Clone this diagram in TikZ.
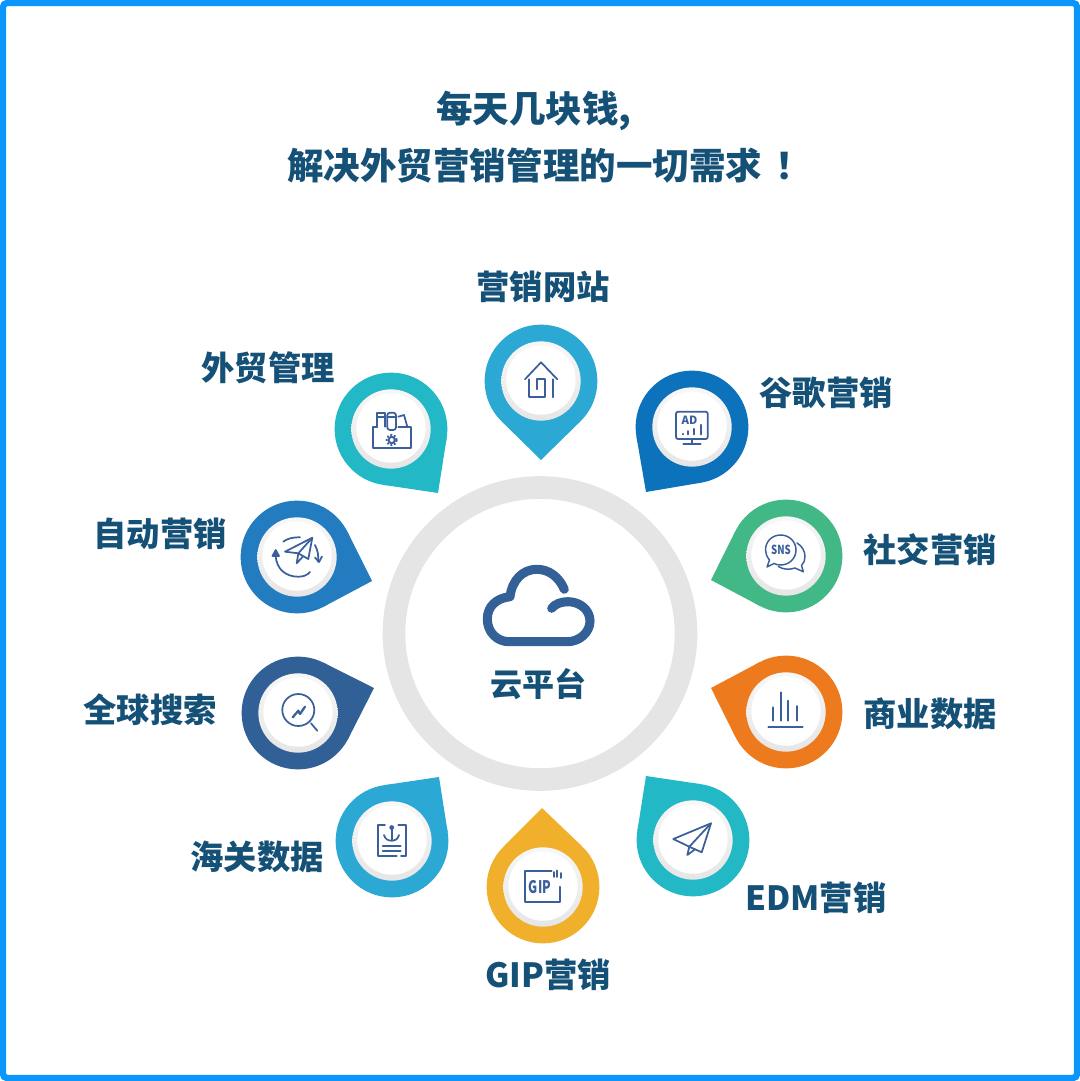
\documentclass[tikz,border=0pt]{standalone}
\usepackage{fontspec}
\usepackage{tikz}
\usetikzlibrary{calc}
\newfontfamily\cjk{Noto Sans CJK SC}
\definecolor{framec}{HTML}{0A96FB}
\definecolor{inkc}{HTML}{155177}
\definecolor{iconc}{HTML}{3A5F9A}
\definecolor{cloudc}{HTML}{336096}
\definecolor{skyc}{HTML}{2CA8D5}
\definecolor{tealc}{HTML}{22B8C6}
\definecolor{bluec}{HTML}{0D72BC}
\definecolor{greenc}{HTML}{41B886}
\definecolor{orangec}{HTML}{EE7A1E}
\definecolor{goldc}{HTML}{F0B02B}
\definecolor{navyc}{HTML}{316096}
\definecolor{midc}{HTML}{247CC0}
\newcommand{\pinmark}[4]{%
  \node [pinbody,fill=#4] (#1) at (#2) {};
  \coordinate (#1tip) at (#3);
  \fill [#4] (#1tip) -- (tangent cs:node=#1,point={(#1tip)},solution=1)
    -- (tangent cs:node=#1,point={(#1tip)},solution=2) -- cycle;
  \node [pinring] (#1ring) at (#2) {};
  \node [pinface] (#1face) at (#2) {};
}
\begin{document}
\begin{tikzpicture}[x=0.75pt,y=-0.75pt,
  pinbody/.style={circle,inner sep=0pt,outer sep=0pt,minimum size=84.6pt},
  pinring/.style={circle,inner sep=0pt,outer sep=0pt,minimum size=59.5pt,top color=black!3,bottom color=black!10},
  pinface/.style={circle,inner sep=0pt,outer sep=0pt,minimum size=52pt,fill=white,yshift=0.7pt},
  head/.style={inner sep=0pt,anchor=west,text=inkc,font=\cjk\bfseries\fontsize{27.4}{32}\selectfont},
  label/.style={inner sep=0pt,text=inkc,font=\cjk\bfseries\fontsize{25}{30}\selectfont},
  icon/.style={draw=iconc,line width=1.3pt,line join=round,line cap=round},
  icontext/.style={inner sep=0pt,text=iconc,font=\cjk\bfseries\fontsize{8.5}{9}\selectfont}]
\useasboundingbox (0,0) rectangle (1080,1081);
\draw [framec,line width=4.8pt,rounded corners=3pt] (3,3) rectangle (1077,1078);
\node [head] (title1) at (436,110.5) {每天几块钱,};
\node [head] (title2) at (287,165.5) {解决外贸营销管理的一切需求\hspace{10pt}！};
% centre ring
\node [circle,draw=black!10,line width=17pt,inner sep=0pt,minimum size=219pt] (ring) at (540,633.5) {};
\draw [cloudc,line width=6.8pt,line cap=round,line join=round]
  (564.3,589.3) .. controls (559,577) and (549,569.3) .. (536.7,569.3)
  .. controls (523,569.3) and (512,580) .. (510,596.7)
  .. controls (497,598) and (487.3,606) .. (487.3,619)
  .. controls (487.3,632) and (497,641.7) .. (509,641.7) -- (567,641.7)
  .. controls (580,641.7) and (590,632) .. (590,621)
  .. controls (590,610) and (580,601.7) .. (568,601.7)
  .. controls (561,601.7) and (555,604) .. (551.7,608.3);
\node [inner sep=0pt,text=inkc,font=\cjk\bfseries\fontsize{24}{28}\selectfont] (cloud) at (538,684) {云平台};
% pins
\pinmark{site}{541,381}{541,460}{skyc}
\pinmark{trade}{391,429}{438,493}{tealc}
\pinmark{google}{692,427}{646,492}{bluec}
\pinmark{social}{786,556}{711,580}{greenc}
\pinmark{biz}{786,712}{711,688}{orangec}
\pinmark{edm}{693,840}{646,776}{tealc}
\pinmark{gip}{543,887}{542,808}{goldc}
\pinmark{customs}{392,841}{439,777}{skyc}
\pinmark{search}{298,713}{374,688}{navyc}
\pinmark{auto}{297,557}{372,581}{midc}
% labels
\node [label] (sitetext) at (543,287) {营销网站};
\node [label] (tradetext) at (268,368) {外贸管理};
\node [label] (googletext) at (826,393) {谷歌营销};
\node [label] (socialtext) at (930,550) {社交营销};
\node [label] (biztext) at (930,714) {商业数据};
\node [label] (edmtext) at (816,898) {EDM营销};
\node [label] (giptext) at (548,975) {GIP营销};
\node [label] (customstext) at (257,857) {海关数据};
\node [label] (searchtext) at (150,710) {全球搜索};
\node [label] (autotext) at (160,534) {自动营销};
% house
\draw [icon] (525,379.3) -- (541,362.3) -- (557.3,379.3);
\draw [icon] (529,379.3) -- (529,397.3) -- (545,397.3) -- (545,379.3) -- (536.7,379.3) -- (536.7,389.3);
\draw [icon] (553.3,379.3) -- (553.3,397.3);
% toolbox
\draw [icon] (377.3,426.7) -- (372.7,426.7) -- (372.7,448) -- (410.7,448) -- (410.7,426.7) -- (398.3,426.7);
\draw [icon] (376.7,426.7) -- (376.7,413.3) -- (385,413.3) -- (385,426.7) (376.7,417) -- (385,417);
\draw [icon,rounded corners=2pt] (387.3,412.7) -- (387.3,430) -- (396,430) -- (396,412.7) -- cycle;
\draw [icon] (387.3,417) -- (396,417);
\draw [icon] (398.3,416.7) -- (404,415) -- (407.3,426.7);
\draw [iconc,line width=1.5pt] (391.7,440) circle (3.2);
\draw [iconc,line width=1.3pt,dash pattern=on 1.4pt off 1.4pt] (391.7,440) circle (5.2);
% monitor
\draw [icon,rounded corners=1.5pt] (676,411.7) rectangle (707.7,439);
\draw [icon] (691.7,439) -- (691.7,444.3);
\draw [icon] (683.3,444.3) -- (700.7,444.3);
\node [icontext] (adtext) at (689.5,420) {AD};
\draw [icon,line width=1.7pt] (682.7,434) -- (682.7,434.3);
\draw [icon,line width=1.7pt] (688.3,431.3) -- (688.3,434.3);
\draw [icon,line width=1.7pt] (694.3,429) -- (694.3,434.3);
\draw [icon,line width=1.7pt] (700.7,425) -- (700.7,434.3);
% chat bubbles
\draw [icon,line width=1.1pt] (767,567) -- (769.5,560) .. controls (767,557) and (765.5,553.5) .. (765.5,550)
  .. controls (765.5,541.5) and (772,535) .. (780.7,535) .. controls (789,535) and (796,541.5) .. (796,550)
  .. controls (796,558.5) and (789,565) .. (780.7,565) .. controls (778,565) and (776,564.5) .. (774,563.5) -- cycle;
\draw [icon,line width=1.1pt] (797,543) .. controls (802,546) and (805,551) .. (805,556.7)
  .. controls (805,560) and (804,563) .. (801.5,565.5) -- (803.3,571.7) -- (795,568)
  .. controls (789,570) and (783,569.5) .. (778.5,566.5);
\node [icontext] (snstext) at (781,550) {\scalebox{0.85}[1.1]{SNS}};
% bars
\draw [icon] (768.3,727.3) -- (802.7,727.3);
\draw [icon] (772.7,707.3) -- (772.7,720.7);
\draw [icon] (780.7,692.3) -- (780.7,720.7);
\draw [icon] (788.3,700.7) -- (788.3,720.7);
\draw [icon] (796.7,706) -- (796.7,720.7);
% paper plane
\draw [icon] (673.3,839) -- (711,823.3) -- (701.7,852.3) -- (689.3,846.7) -- cycle;
\draw [icon] (711,823.3) -- (689.3,846.7) -- (687.3,855) -- (695,849.3);
% gip card
\draw [icon] (551.7,871) -- (525,871) -- (525,901.7) -- (560,901.7) -- (560,886.7);
\node [icontext,font=\cjk\bfseries\fontsize{13}{14}\selectfont] (gipcard) at (540,886.7) {\scalebox{0.72}[1]{GIP}};
\draw [icon] (553.7,872) -- (553.7,877);
\draw [icon] (557,870.5) -- (557,877);
\draw [icon] (560.7,873) -- (560.7,878);
% anchor sheet
\draw [icon] (385,825) -- (378.3,825) -- (378.3,856) -- (396.7,856);
\draw [icon] (401,856) -- (406,856) -- (406,825) -- (398.3,825);
\fill [iconc] (391.7,827.5) circle (2.4);
\draw [icon] (391.7,827) -- (391.7,840.5);
\draw [icon] (384,835) .. controls (385,839) and (388,840.7) .. (391.7,840.7) .. controls (395,840.7) and (398,839) .. (399,835);
\draw [icon] (382.7,846) -- (400.7,846);
\draw [icon] (382.7,850.7) -- (400.7,850.7);
% magnifier
\draw [icon] (298.3,710) circle (16);
\draw [icon] (311,723.3) -- (317.3,730.7);
\draw [icon,line width=1.7pt] (292.7,717.3) -- (298.3,710.7) -- (300,714) -- (305,706.7);
% plane with cycle arrows
\draw [icon] (285,551.7) -- (312.3,537.7) -- (308.3,559) -- (298.3,553.3) -- cycle;
\draw [icon] (312.3,537.7) -- (298.3,553.3) -- (296.7,563.3) -- (302.7,556.7);
\draw [icon] (283.3,541.7) .. controls (287,538.7) and (292,537.3) .. (300,537.3);
\draw [icon] (275.7,555) .. controls (276,570) and (287,576.7) .. (298,576.7) .. controls (303,576.7) and (307,575.5) .. (310,572);
\draw [icon] (315,545) .. controls (318,551) and (318.7,556) .. (318,561.7);
\draw [icon,fill=iconc] (275.7,550) -- (272.5,556) -- (279,556) -- cycle;
\draw [icon] (315,557.5) -- (319,562) -- (322,556.5);
\end{tikzpicture}
\end{document}
